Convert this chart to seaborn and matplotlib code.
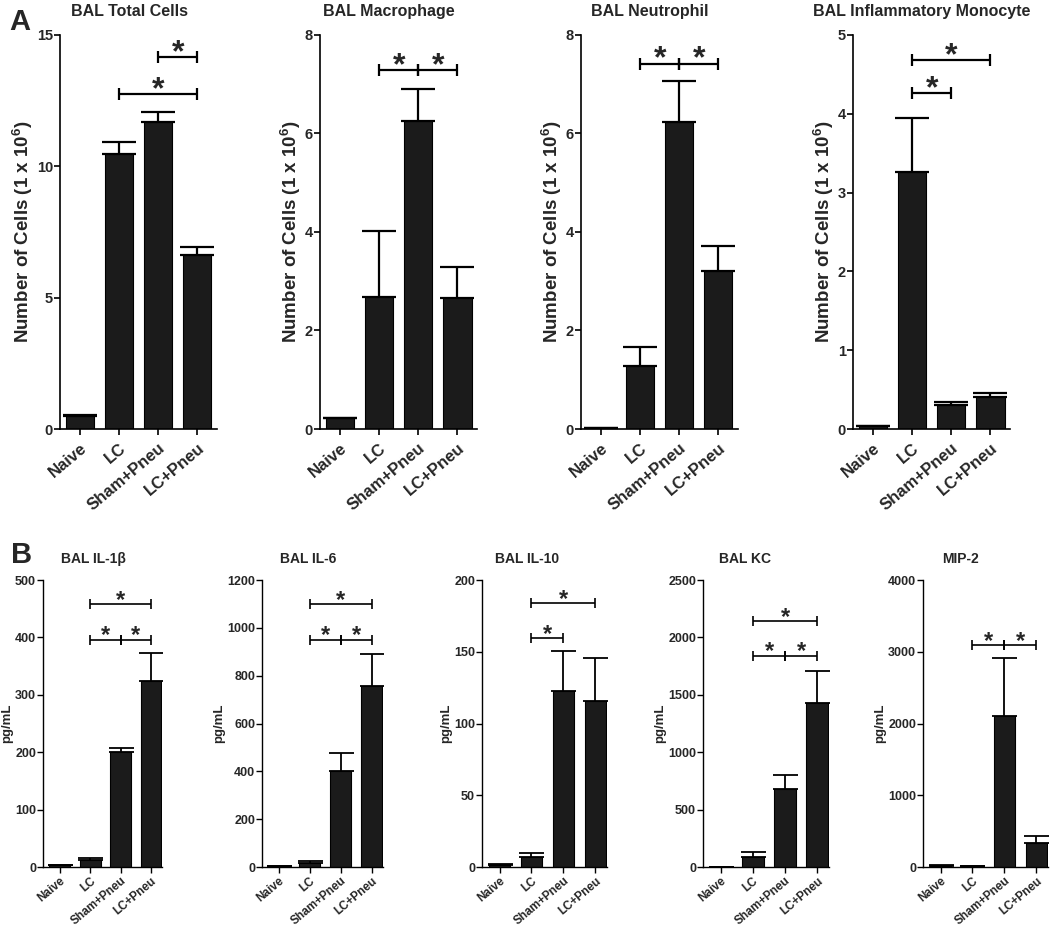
import numpy as np
import pandas as pd
import matplotlib
matplotlib.use('Agg')
import matplotlib.pyplot as plt
import matplotlib.transforms as mtrans
import seaborn as sns

groups = ['Naive', 'LC', 'Sham+Pneu', 'LC+Pneu']

# panel A: BAL cell counts (1 x 10^6), mean and upper SEM
total_mean = [0.49, 10.47, 11.67, 6.62]
total_err = [0.04, 0.47, 0.41, 0.30]
mac_mean = [0.22, 2.68, 6.25, 2.66]
mac_err = [0.0, 1.34, 0.65, 0.63]
neu_mean = [0.03, 1.28, 6.23, 3.20]
neu_err = [0.0, 0.38, 0.84, 0.52]
mono_mean = [0.04, 3.26, 0.31, 0.40]
mono_err = [0.0, 0.69, 0.03, 0.06]

# panel B: cytokines (pg/mL)
il1b_mean = [2.9, 11.6, 200, 324]
il1b_err = [0.6, 4.4, 8, 49]
il6_mean = [4, 18, 401, 755]
il6_err = [1, 7, 75, 136]
il10_mean = [1.4, 7.0, 122.5, 115.8]
il10_err = [0.5, 2.7, 28, 30]
kc_mean = [3, 87, 676, 1427]
kc_err = [1, 41, 130, 278]
mip2_mean = [18, 9, 2102, 333]
mip2_err = [10, 3, 810, 93]

# significance brackets: (group from, group to, height)
total_sig = [(1, 3, 12.75), (2, 3, 14.15)]
mac_sig = [(1, 2, 7.28), (2, 3, 7.28)]
neu_sig = [(1, 2, 7.42), (2, 3, 7.42)]
mono_sig = [(1, 2, 4.26), (1, 3, 4.68)]
il1b_sig = [(1, 2, 396), (2, 3, 396), (1, 3, 458)]
il6_sig = [(1, 2, 951), (2, 3, 951), (1, 3, 1100)]
il10_sig = [(1, 2, 159.6), (1, 3, 183.8)]
kc_sig = [(1, 2, 1842), (2, 3, 1842), (1, 3, 2140)]
mip2_sig = [(1, 2, 3097), (2, 3, 3097)]

top_titles = ['BAL Total Cells', 'BAL Macrophage', 'BAL Neutrophil', 'BAL Inflammatory Monocyte']
top_ticks = [[0, 5, 10, 15], [0, 2, 4, 6, 8], [0, 2, 4, 6, 8], [0, 1, 2, 3, 4, 5]]
bot_titles = ['BAL IL-1\u03b2', 'BAL IL-6', 'BAL IL-10', 'BAL KC', 'MIP-2']
bot_ticks = [[0, 100, 200, 300, 400, 500], [0, 200, 400, 600, 800, 1000, 1200],
             [0, 50, 100, 150, 200], [0, 500, 1000, 1500, 2000, 2500],
             [0, 1000, 2000, 3000, 4000]]

sns.set_style('ticks')
plt.rcParams['font.family'] = ['Liberation Sans', 'DejaVu Sans']
plt.rcParams['font.weight'] = 'bold'
plt.rcParams['mathtext.fontset'] = 'custom'
plt.rcParams['mathtext.rm'] = 'Liberation Sans'
plt.rcParams['mathtext.bf'] = 'Liberation Sans:bold'

BAR = '#1b1b1b'


def plot_panel(fig, ax, means, errs, sig, title, ylabel, ticks, big, title_x):
    if big:
        s = dict(cap=12, elw=1.6, tick_fs=12, ytick_fs=10.5, title_fs=11.5, ylab_fs=13.5,
                 star_fs=23, star_off=-3, ms=8.5, blw=1.6, width=0.72, spine=1.2,
                 xlim=(-0.52, 3.5), xpad=4, xshift=3, ypad=1, lpad=1)
    else:
        s = dict(cap=9, elw=1.3, tick_fs=8.5, ytick_fs=9, title_fs=10, ylab_fs=9.5,
                 star_fs=17, star_off=-2, ms=6.5, blw=1.2, width=0.68, spine=1.0,
                 xlim=(-0.55, 3.36), xpad=1.5, xshift=4, ypad=1, lpad=1)
    df = pd.DataFrame({'group': groups, 'value': means})
    sns.barplot(data=df, x='group', y='value', color=BAR, saturation=1, width=s['width'],
                edgecolor='black', linewidth=0.8, errorbar=None, ax=ax)
    x = np.arange(len(groups))
    ax.errorbar(x, means, yerr=[np.zeros(len(errs)), errs], fmt='none', ecolor='black',
                elinewidth=s['elw'], capsize=s['cap'], capthick=s['elw'], zorder=1)
    for x1, x2, y in sig:
        ax.plot([x1, x2], [y, y], color='black', lw=s['blw'], solid_capstyle='butt', clip_on=False)
        ax.plot([x1, x2], [y, y], ls='none', marker='|', ms=s['ms'], mew=s['blw'],
                color='black', clip_on=False)
        ax.annotate('*', xy=((x1 + x2) / 2, y), xytext=(0, s['star_off']),
                    textcoords='offset points', ha='center', va='baseline',
                    fontsize=s['star_fs'], fontweight='bold')
    ax.set_ylim(0, ticks[-1])
    ax.set_yticks(ticks)
    ax.set_xlim(*s['xlim'])
    ax.set_xlabel('')
    ax.set_ylabel(ylabel, fontsize=s['ylab_fs'], fontweight='bold', labelpad=s['lpad'])
    ax.set_title(title, fontsize=s['title_fs'], fontweight='bold', x=title_x,
                 pad=14 if big else 12)
    ax.set_xticks(x)
    ax.set_xticklabels(groups, rotation=40, ha='right', va='top', rotation_mode='anchor',
                       fontsize=s['tick_fs'], fontweight='bold')
    shift = mtrans.ScaledTranslation(s['xshift'] / 72, 0, fig.dpi_scale_trans)
    for lab in ax.get_xticklabels():
        lab.set_transform(lab.get_transform() + shift)
    for lab in ax.get_yticklabels():
        lab.set_fontsize(s['ytick_fs'])
        lab.set_fontweight('bold')
    ax.tick_params(length=4, width=s['spine'], color='black')
    ax.tick_params(axis='x', pad=s['xpad'])
    ax.tick_params(axis='y', pad=s['ypad'])
    sns.despine(ax=ax)
    for sp in ['left', 'bottom']:
        ax.spines[sp].set_linewidth(s['spine'])
        ax.spines[sp].set_color('black')


fig = plt.figure(figsize=(10.5, 9.3), dpi=100)

top_left = [0.0571, 0.3048, 0.5533, 0.8124]
top_data = [(total_mean, total_err, total_sig), (mac_mean, mac_err, mac_sig),
            (neu_mean, neu_err, neu_sig), (mono_mean, mono_err, mono_sig)]
for i, (m, e, sg) in enumerate(top_data):
    ax = fig.add_axes([top_left[i], 0.5387, 0.1495, 0.4237])
    plot_panel(fig, ax, m, e, sg, top_titles[i], 'Number of Cells (1 x 10$^{\\mathbf{6}}$)',
               top_ticks[i], True, 0.44)

bot_left = [0.041, 0.2495, 0.459, 0.6695, 0.879]
bot_w = [0.1133, 0.1152, 0.119, 0.12, 0.119]
bot_tx = [0.42, 0.38, 0.36, 0.33, 0.30]
bot_data = [(il1b_mean, il1b_err, il1b_sig), (il6_mean, il6_err, il6_sig),
            (il10_mean, il10_err, il10_sig), (kc_mean, kc_err, kc_sig),
            (mip2_mean, mip2_err, mip2_sig)]
for i, (m, e, sg) in enumerate(bot_data):
    ax = fig.add_axes([bot_left[i], 0.0677, bot_w[i], 0.3086])
    plot_panel(fig, ax, m, e, sg, bot_titles[i], 'pg/mL', bot_ticks[i], False, bot_tx[i])

fig.text(0.019, 0.976, 'A', fontsize=21, fontweight='bold', ha='center', va='center')
fig.text(0.021, 0.403, 'B', fontsize=21, fontweight='bold', ha='center', va='center')

fig.savefig('out.png', dpi=100, facecolor='white')
